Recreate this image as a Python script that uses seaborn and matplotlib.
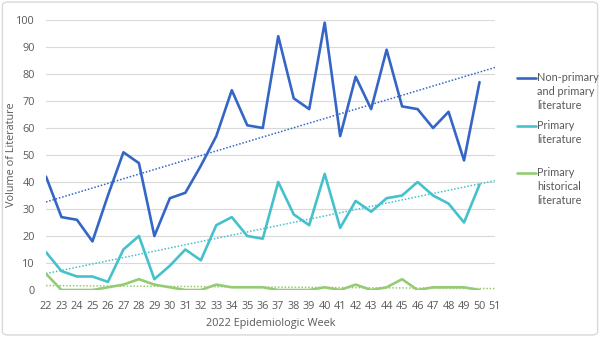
import numpy as np
import pandas as pd
import matplotlib
matplotlib.use("Agg")
import matplotlib.pyplot as plt
from matplotlib.patches import FancyBboxPatch
import seaborn as sns

# data
weeks = list(range(22, 51))
non_primary_and_primary = [42, 27, 26, 18, 35, 51, 47, 20, 34, 36, 46, 57, 74, 61, 60,
                           94, 71, 67, 99, 57, 79, 67, 89, 68, 67, 60, 66, 48, 77]
primary = [14, 7, 5, 5, 3, 15, 20, 4, 9, 15, 11, 24, 27, 20, 19,
           40, 28, 24, 43, 23, 33, 29, 34, 35, 40, 35, 32, 25, 39]
primary_historical = [6, 0, 0, 0, 1, 2, 4, 2, 1, 0, 0, 2, 1, 1, 1,
                      0, 0, 0, 1, 0, 2, 0, 1, 4, 0, 1, 1, 1, 0]
series_names = ["Non-primary\nand primary\nliterature", "Primary\nliterature",
                "Primary\nhistorical\nliterature"]
colors = ["#3566C6", "#45C1CC", "#95CC73"]
x_ticks = list(range(22, 52))

df = pd.DataFrame({"week": weeks,
                   series_names[0]: non_primary_and_primary,
                   series_names[1]: primary,
                   series_names[2]: primary_historical})
long = df.melt(id_vars="week", var_name="series", value_name="volume")

sns.set_style("white")
plt.rcParams["font.family"] = ["Open Sans", "DejaVu Sans"]

fig = plt.figure(figsize=(6, 3.37), dpi=100)
ax = fig.add_axes([46 / 600, 47 / 337, 449 / 600, 270 / 337])

for y in range(0, 101, 10):
    ax.axhline(y, color="#D9D9D9", lw=0.8, zorder=0)

sns.lineplot(data=long, x="week", y="volume", hue="series", palette=colors,
             hue_order=series_names, lw=1.9, ax=ax, legend=False)

# linear trendlines, forecast forward one period
trend_x = np.array(x_ticks, dtype=float)
for name, c in zip(series_names, colors):
    k, b = np.polyfit(df["week"], df[name], 1)
    ax.plot(trend_x, k * trend_x + b, ls=(0, (1, 1.2)), color=c, lw=1.1, zorder=1)

ax.set_xlim(22, 51)
ax.set_ylim(0, 100)
ax.set_xticks(x_ticks)
ax.set_yticks(range(0, 101, 10))
ax.tick_params(axis="both", length=0, labelsize=7.8, colors="#595959")
ax.tick_params(axis="x", pad=8)
ax.tick_params(axis="y", pad=8)
for s in ax.spines.values():
    s.set_visible(False)
ax.set_xlabel("2022 Epidemiologic Week", fontsize=7.8, color="#595959", labelpad=4)
ax.set_ylabel("Volume of Literature", fontsize=7.8, color="#595959", va="center")
ax.yaxis.set_label_coords(-0.076, 0.5)

# legend at the right
legend_y = [78, 126, 173]
for name, c, yy in zip(series_names, colors, legend_y):
    fy = 1 - yy / 337
    fig.add_artist(plt.Line2D([517 / 600, 536 / 600], [fy, fy], color=c, lw=1.9))
    fig.text(537 / 600, fy + 6 / 337, name, fontsize=7.8, color="#595959",
             family=["Lato", "DejaVu Sans"], va="top", ha="left", linespacing=1.35)

fig.patches.append(FancyBboxPatch((0.004, 0.006), 0.992, 0.988,
                                  boxstyle="round,pad=0,rounding_size=0.01",
                                  transform=fig.transFigure, fill=False,
                                  edgecolor="#D9D9D9", lw=1))

fig.savefig("out.png", dpi=100)
